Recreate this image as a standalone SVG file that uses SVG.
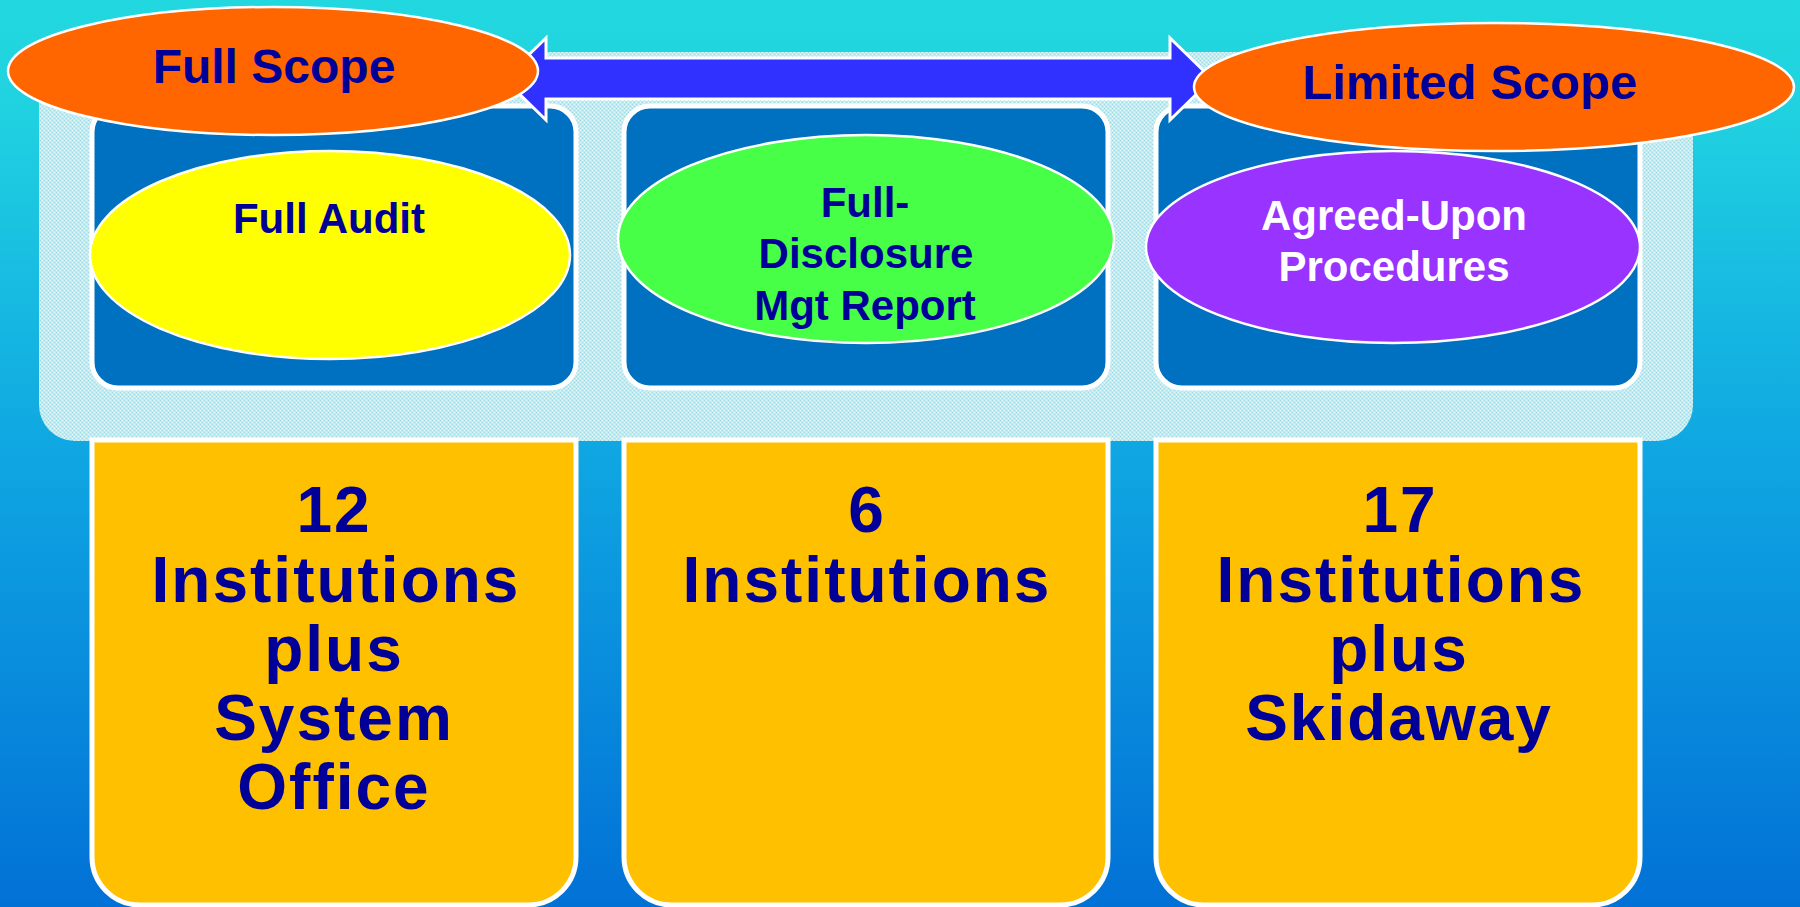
<svg xmlns="http://www.w3.org/2000/svg" width="1800" height="907" viewBox="0 0 1800 907">
  <defs>
    <linearGradient id="bg" x1="0" y1="0" x2="0" y2="1">
      <stop offset="0" stop-color="#22d8df"/>
      <stop offset="0.12" stop-color="#20d2e0"/>
      <stop offset="0.5" stop-color="#0fa6e2"/>
      <stop offset="1" stop-color="#0271d6"/>
    </linearGradient>
    <pattern id="dots" width="4" height="4" patternUnits="userSpaceOnUse">
      <rect width="4" height="4" fill="#c6eaee"/>
      <rect x="0" y="0" width="1" height="1" fill="#9ed9e6"/>
      <rect x="2" y="2" width="1" height="1" fill="#9ed9e6"/>
      <rect x="2" y="0" width="1" height="1" fill="#e2f6f6"/>
      <rect x="0" y="2" width="1" height="1" fill="#e2f6f6"/>
    </pattern>
    <style>
      .topbox { fill: #0070c0; stroke: #ffffff; stroke-width: 5; }
      .botbox { fill: #ffc000; stroke: #ffffff; stroke-width: 5; }
      .ell { stroke: #ffffff; stroke-width: 2.5; }
      .t { font-family: "Liberation Sans", Arial, sans-serif; font-weight: bold; text-anchor: middle; fill: #000099; }
      .big { font-size: 64px; letter-spacing: 2px; }
      .mid { font-size: 42px; }
      .scope { font-size: 48px; }
    </style>
  </defs>

  <rect x="0" y="0" width="1800" height="907" fill="url(#bg)"/>

  <g id="panel">
    <rect x="39" y="52" width="1654" height="389" rx="36" ry="36" fill="url(#dots)"/>
  </g>

  <g id="bottom-boxes">
    <g id="count-full">
      <path class="botbox" d="M92,440 H576 V857 A48,48 0 0 1 528,905 H140 A48,48 0 0 1 92,857 Z"/>
      <text class="t big" x="334" y="532">12</text>
      <text class="t big" x="336" y="602">Institutions</text>
      <text class="t big" x="334" y="671">plus</text>
      <text class="t big" x="334" y="740">System</text>
      <text class="t big" x="334" y="809">Office</text>
    </g>
    <g id="count-disclosure">
      <path class="botbox" d="M624,440 H1108 V857 A48,48 0 0 1 1060,905 H672 A48,48 0 0 1 624,857 Z"/>
      <text class="t big" x="867" y="532">6</text>
      <text class="t big" x="867" y="602">Institutions</text>
    </g>
    <g id="count-limited">
      <path class="botbox" d="M1156,440 H1640 V857 A48,48 0 0 1 1592,905 H1204 A48,48 0 0 1 1156,857 Z"/>
      <text class="t big" x="1400" y="532">17</text>
      <text class="t big" x="1401" y="602">Institutions</text>
      <text class="t big" x="1399" y="671">plus</text>
      <text class="t big" x="1399" y="740">Skidaway</text>
    </g>
  </g>

  <g id="top-boxes">
    <rect id="box-full" class="topbox" x="92" y="106" width="484" height="282" rx="26" ry="26"/>
    <rect id="box-disclosure" class="topbox" x="624" y="106" width="484" height="282" rx="26" ry="26"/>
    <rect id="box-limited" class="topbox" x="1156" y="106" width="484" height="282" rx="26" ry="26"/>
  </g>

  <g id="full-audit">
    <ellipse class="ell" cx="330" cy="255" rx="240" ry="104" fill="#ffff00"/>
    <text class="t mid" x="329" y="233">Full Audit</text>
  </g>

  <g id="full-disclosure">
    <ellipse class="ell" cx="866" cy="239" rx="248" ry="104" fill="#46ff46"/>
    <text class="t mid" x="865" y="217">Full-</text>
    <text class="t mid" x="866" y="268">Disclosure</text>
    <text class="t mid" x="865" y="320">Mgt Report</text>
  </g>

  <g id="agreed-upon">
    <ellipse class="ell" cx="1393" cy="247" rx="247" ry="96" fill="#9933ff"/>
    <text class="t mid" x="1394" y="230" style="fill:#ffffff">Agreed-Upon</text>
    <text class="t mid" x="1394" y="281" style="fill:#ffffff">Procedures</text>
  </g>

  <g id="connectors">
    <path d="M504,79 L546,38 L546,58 L1170,58 L1170,38 L1212,79 L1170,120 L1170,99 L546,99 L546,120 Z" fill="#3030ff" stroke="#ffffff" stroke-width="3" stroke-linejoin="miter"/>
  </g>

  <g id="full-scope">
    <ellipse class="ell" cx="273" cy="71" rx="265" ry="64" fill="#ff6600"/>
    <text class="t scope" x="274" y="83">Full Scope</text>
  </g>

  <g id="limited-scope">
    <ellipse class="ell" cx="1494" cy="87" rx="300" ry="64" fill="#ff6600"/>
    <text class="t scope" x="1470" y="99" style="font-size:49px">Limited Scope</text>
  </g>
</svg>
